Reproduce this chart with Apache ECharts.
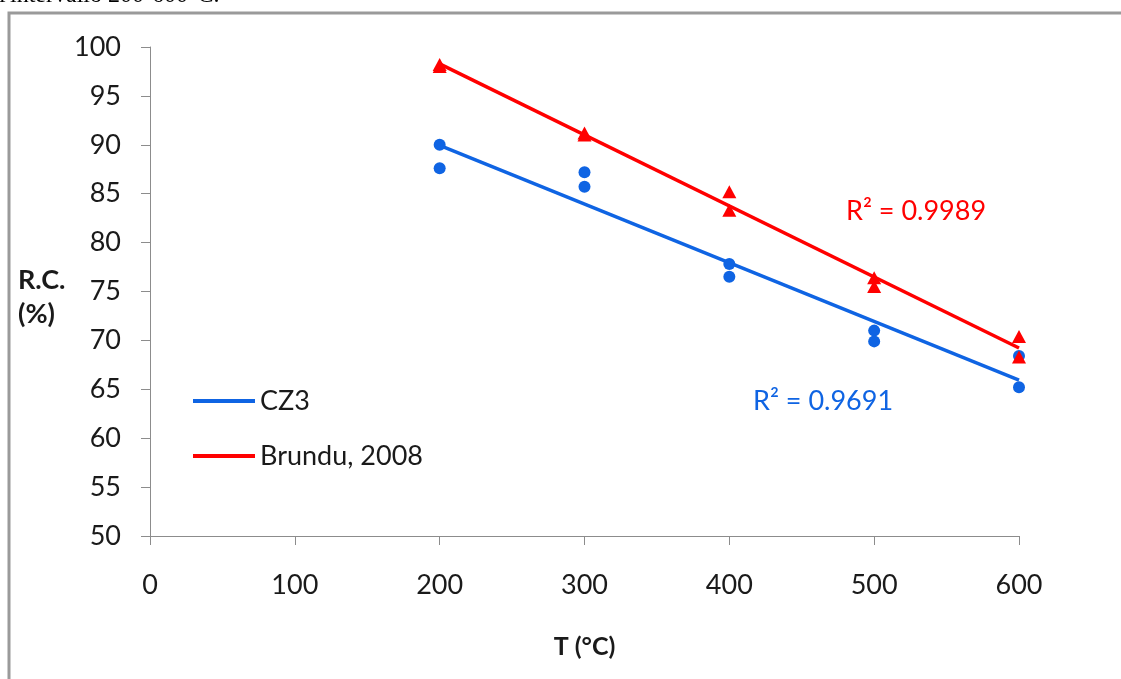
<!DOCTYPE html>
<html>
<head>
<meta charset="utf-8">
<title>R.C. vs T</title>
<script src="https://cdn.jsdelivr.net/npm/echarts@6/dist/echarts.min.js"></script>
<style>
  html, body { margin: 0; padding: 0; background: #fff; }
  #chart { width: 1121px; height: 679px; }
</style>
</head>
<body>
<div id="chart"></div>
<script>
// Temperatures (°C) of each measurement
const tempCZ3 = [200, 200, 300, 300, 400, 400, 500, 500, 600, 600];
const rcCZ3 = [90.0, 87.6, 87.2, 85.7, 77.8, 76.5, 71.0, 69.9, 68.4, 65.2];

const tempBrundu = [200, 200, 300, 300, 400, 400, 500, 500, 600, 600];
const rcBrundu = [98.2, 98.0, 91.2, 91.0, 85.2, 83.3, 76.4, 75.5, 70.4, 68.3];

const seriesNames = ['CZ3', 'Brundu, 2008'];
const r2Labels = ['R\u00B2 = 0.9691', 'R\u00B2 = 0.9989'];
const xTicks = [0, 600, 100];   // min, max, step
const yTicks = [50, 100, 5];

const BLUE = '#0f64e3';
const RED = '#ff0000';
const FONT = 'Lato';

// least-squares straight line through the points, evaluated at the end temperatures
function linearFit(xs, ys) {
  const n = xs.length;
  const mx = xs.reduce((a, b) => a + b, 0) / n;
  const my = ys.reduce((a, b) => a + b, 0) / n;
  let sxy = 0, sxx = 0;
  for (let i = 0; i < n; i++) {
    sxy += (xs[i] - mx) * (ys[i] - my);
    sxx += (xs[i] - mx) * (xs[i] - mx);
  }
  const slope = sxy / sxx;
  const x0 = Math.min(...xs), x1 = Math.max(...xs);
  return [[x0, my + slope * (x0 - mx)], [x1, my + slope * (x1 - mx)]];
}

const pairs = (xs, ys) => xs.map((x, i) => [x, ys[i]]);

const chart = echarts.init(document.getElementById('chart'), null, { renderer: 'canvas' });

const axisCommon = {
  axisLine: { show: true, lineStyle: { color: '#8c8c8c', width: 1 } },
  axisTick: { show: true, length: 9, lineStyle: { color: '#8c8c8c', width: 1 } },
  splitLine: { show: false },
  axisLabel: { color: '#1a1a1a', fontFamily: FONT, fontSize: 27 }
};

const legendText = { color: '#1a1a1a', fontFamily: FONT, fontSize: 27, lineHeight: 30 };

chart.setOption({
  animation: false,
  backgroundColor: '#ffffff',
  grid: { left: 150, right: 102, top: 47, bottom: 143, containLabel: false },
  xAxis: Object.assign({}, axisCommon, {
    type: 'value',
    min: xTicks[0], max: xTicks[1], interval: xTicks[2],
    axisLabel: Object.assign({}, axisCommon.axisLabel, { margin: 36 }),
    name: 'T (\u00B0C)',
    nameLocation: 'middle',
    nameGap: 98,
    nameTextStyle: { color: '#1a1a1a', fontFamily: FONT, fontSize: 25, fontWeight: 'bold' }
  }),
  yAxis: Object.assign({}, axisCommon, {
    type: 'value',
    min: yTicks[0], max: yTicks[1], interval: yTicks[2],
    axisLabel: Object.assign({}, axisCommon.axisLabel, { margin: 29 })
  }),
  legend: [
    {
      data: [seriesNames[0]], left: 193, top: 386, orient: 'vertical', padding: 0,
      icon: 'rect', itemWidth: 62, itemHeight: 4, itemGap: 0, selectedMode: false,
      textStyle: legendText
    },
    {
      data: [seriesNames[1]], left: 193, top: 441, orient: 'vertical', padding: 0,
      icon: 'rect', itemWidth: 62, itemHeight: 4, itemGap: 0, selectedMode: false,
      textStyle: legendText
    }
  ],
  graphic: [
    {
      type: 'polyline', silent: true,
      shape: { points: [[9, 690], [9, 13], [1130, 13]] },
      style: { stroke: '#9a9a9a', lineWidth: 3, fill: null }
    },
    {
      type: 'text', left: -1, top: -16, silent: true,
      style: { text: "l'intervallo 200-600\u00B0C.", font: '24px "Liberation Serif"', fill: '#000' }
    },
    {
      type: 'text', left: 18, top: 263, silent: true,
      style: {
        text: 'R.C.\n(%)', fill: '#1a1a1a', align: 'center',
        font: 'bold 27px Lato', lineHeight: 34
      }
    },
    {
      type: 'text', left: 753, top: 388, silent: true,
      style: { text: r2Labels[0], fill: BLUE, font: '27px Lato' }
    },
    {
      type: 'text', left: 846, top: 198, silent: true,
      style: { text: r2Labels[1], fill: RED, font: '27px Lato' }
    }
  ],
  series: [
    {
      name: seriesNames[0], type: 'line', data: linearFit(tempCZ3, rcCZ3),
      showSymbol: false, symbol: 'none', z: 2,
      itemStyle: { color: BLUE }, lineStyle: { color: BLUE, width: 3.5 }
    },
    {
      name: seriesNames[1], type: 'line', data: linearFit(tempBrundu, rcBrundu),
      showSymbol: false, symbol: 'none', z: 2,
      itemStyle: { color: RED }, lineStyle: { color: RED, width: 3.5 }
    },
    {
      name: seriesNames[0] + ' punti', type: 'scatter', data: pairs(tempCZ3, rcCZ3),
      symbol: 'circle', symbolSize: 12, z: 3,
      itemStyle: { color: BLUE, opacity: 1 }
    },
    {
      name: seriesNames[1] + ' punti', type: 'scatter', data: pairs(tempBrundu, rcBrundu),
      symbol: 'triangle', symbolSize: [14, 13], z: 4,
      itemStyle: { color: RED, opacity: 1 }
    }
  ]
});
</script>
</body>
</html>
